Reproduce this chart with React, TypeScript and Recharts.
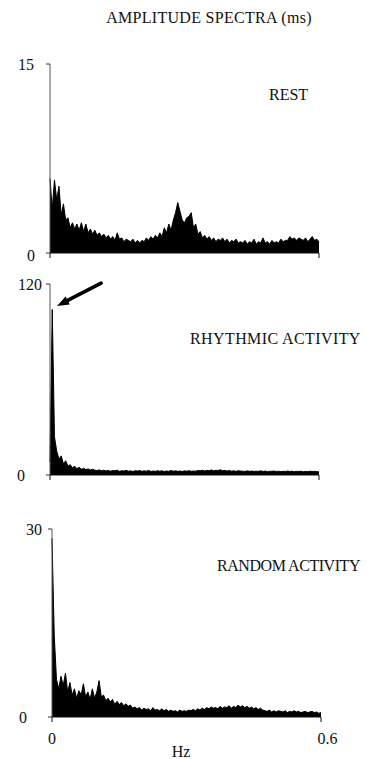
import React from 'react';
import { AreaChart, Area, XAxis, YAxis, ReferenceLine } from 'recharts';

// ---- data ----
const FREQ_STEP = 0.005; // Hz per spectral bin
const X_TICKS = [0, 0.6];

const REST_VALUES = [
  5.9, 3.5, 5.8, 4.2, 5.3, 3.0, 3.9, 2.6, 2.8, 2.0,
  2.4, 1.9, 2.3, 1.8, 2.4, 1.7, 2.3, 1.6, 1.9, 1.5,
  1.8, 1.4, 1.6, 1.3, 1.5, 1.2, 1.4, 1.1, 1.3, 1.0,
  1.6, 1.1, 1.2, 0.9, 1.1, 1.0, 0.9, 1.1, 0.8, 1.0,
  0.8, 1.0, 0.9, 1.2, 1.0, 1.3, 1.1, 1.4, 1.2, 1.6,
  1.3, 2.0, 1.6, 2.3, 1.8, 2.6, 3.2, 4.0, 3.3, 2.6,
  2.4, 2.8, 2.9, 3.2, 2.0, 2.3, 1.5, 1.7, 1.2, 1.4,
  1.1, 1.3, 1.0, 1.2, 0.9, 1.1, 1.0, 1.2, 0.9, 1.1,
  0.8, 1.0, 0.9, 1.1, 0.8, 0.9, 0.8, 1.0, 0.7, 0.9,
  0.8, 1.1, 0.7, 0.9, 0.8, 1.2, 0.8, 0.9, 0.7, 1.0,
  0.8, 0.9, 0.8, 1.1, 0.9, 1.0, 1.0, 1.3, 1.1, 1.2,
  1.0, 1.2, 1.1, 1.0, 1.2, 0.9, 1.1, 1.3, 1.0, 1.1,
  0.9,
];

const RHYTHMIC_VALUES = [
  8, 104, 24, 15, 10, 12, 7, 9, 5.5, 6.5,
  4.5, 5.5, 4, 4.8, 3.6, 4.2, 3.4, 3.8, 3.2, 3.6,
  3.0,
  2.8, 3.2, 2.6, 3.0, 2.5, 2.9, 2.4, 2.8, 2.6, 3.0,
  2.3, 2.7, 2.5, 2.9, 2.4, 2.6, 2.2, 2.7, 2.5, 2.8,
  2.3, 2.6, 2.4, 2.9, 2.2, 2.5, 2.3, 2.7, 2.4, 2.6,
  2.2, 2.5, 2.3, 2.8, 2.4, 2.6, 2.3, 2.5, 2.2, 2.6,
  2.4, 2.7, 2.3, 2.5, 2.4, 2.8, 2.6, 3.0, 2.5, 2.9,
  2.7, 3.2, 2.6, 3.0, 2.8, 3.3, 2.7, 2.9, 2.5, 2.8,
  2.4, 2.6, 2.3, 2.7, 2.5, 2.4, 2.2, 2.6, 2.3, 2.5,
  2.2, 2.4, 2.3, 2.6, 2.2, 2.5, 2.1, 2.4, 2.3, 2.5,
  2.2, 2.4, 2.1, 2.3, 2.2, 2.5, 2.2, 2.4, 2.1, 2.3,
  2.2, 2.4, 2.0, 2.3, 2.1, 2.4, 2.2, 2.3, 2.1, 2.0,
];

const RANDOM_VALUES = [
  28.5, 13, 6, 4.5, 6.5, 5, 7, 4, 5.5, 3.5,
  4.5, 3.0, 4.2, 3.5, 5.3, 3.2, 4.0, 2.8, 4.5, 3.0,
  4.0, 5.8, 3.2, 3.5, 2.6, 3.0, 2.4, 2.8, 2.0, 2.5,
  2.0, 2.3, 1.8, 2.1, 1.7, 1.9, 1.4, 1.6, 1.3, 1.5,
  1.1, 1.4, 1.2, 1.3, 1.0, 1.5, 1.1, 1.2, 1.0, 1.3,
  1.0, 1.2, 0.9, 1.1, 0.9, 1.0, 0.8, 1.1, 0.9, 1.0,
  0.9, 1.1, 1.0, 1.2, 1.0, 1.3, 1.1, 1.4, 1.2, 1.5,
  1.3, 1.6, 1.4, 1.5, 1.3, 1.7, 1.4, 1.6, 1.5, 1.8,
  1.4, 1.7, 1.5, 1.9, 1.6, 1.8, 1.5, 1.7, 1.4, 1.6,
  1.3, 1.5, 1.2, 1.4, 1.1, 1.0, 0.9, 1.1, 0.8, 1.0,
  0.8, 1.0, 0.9, 0.8, 1.0, 0.7, 0.9, 0.8, 1.0, 0.8,
  0.9, 0.7, 0.8, 0.9, 0.7, 0.8, 0.9, 0.7, 0.8, 0.6,
  0.7,
];

const TITLE = 'AMPLITUDE SPECTRA (ms)';
const PANEL_LABELS = ['REST', 'RHYTHMIC ACTIVITY', 'RANDOM ACTIVITY'];
const REST_Y_TICKS = [0, 15];
const RHYTHMIC_Y_TICKS = [0, 120];
const RANDOM_Y_TICKS = [0, 30];
const X_LABEL = 'Hz';
// arrow annotation (data coordinates of the rhythmic panel): tail -> tip
const ARROW = [
  { x: 0.114, y: 120.6 },
  { x: 0.0156, y: 106.2 },
];

const toRows = (vals: number[]) =>
  vals.map((v, i) => ({ f: +(i * FREQ_STEP).toFixed(3), v }));

const FONT = '"Liberation Serif", "Times New Roman", serif';
const INK = '#111';

const makeYTick = (off: Record<string, [number, number]>) => (p: any) => {
  const o = off[String(p.payload.value)] || [0, 0];
  return (
    <text
      x={p.x + o[0]}
      y={p.y + o[1]}
      dy="0.35em"
      textAnchor="end"
      fontFamily={FONT}
      fontSize={16}
      fill={INK}
    >
      {p.payload.value}
    </text>
  );
};

const makeXTick = (off: Record<string, [number, number]>) => (p: any) => {
  const o = off[String(p.payload.value)] || [0, 0];
  return (
    <text
      x={p.x + o[0]}
      y={p.y + o[1]}
      dy="0.71em"
      textAnchor="middle"
      fontFamily={FONT}
      fontSize={16}
      fill={INK}
    >
      {p.payload.value}
    </text>
  );
};

const emptyTick = () => <g />;

const ArrowShape = (p: any) => {
  const { x1, y1, x2, y2 } = p;
  const dx = x2 - x1;
  const dy = y2 - y1;
  const len = Math.sqrt(dx * dx + dy * dy) || 1;
  const ux = dx / len;
  const uy = dy / len;
  const head = 12;
  const hw = 4.5;
  const bx = x2 - ux * head;
  const by = y2 - uy * head;
  const nx = -uy;
  const ny = ux;
  return (
    <g>
      <line x1={x1} y1={y1} x2={bx} y2={by} stroke="#000" strokeWidth={3.6} strokeLinecap="round" />
      <polygon
        points={`${x2},${y2} ${bx + nx * hw},${by + ny * hw} ${bx - nx * hw},${by - ny * hw}`}
        fill="#000"
      />
    </g>
  );
};

type PanelProps = {
  top: number;
  height: number;
  margin: { top: number; right: number; bottom: number; left: number };
  yWidth: number;
  values: number[];
  yMax: number;
  yTicks: number[];
  yOffsets: Record<string, [number, number]>;
  xAxisHeight: number;
  showX?: boolean;
  children?: React.ReactNode;
};

const Panel = ({
  top,
  height,
  margin,
  yWidth,
  values,
  yMax,
  yTicks,
  yOffsets,
  xAxisHeight,
  showX,
  children,
}: PanelProps) => (
  <div style={{ position: 'absolute', left: 0, top, width: 381, height }}>
    <AreaChart width={381} height={height} data={toRows(values)} margin={margin}>
      <XAxis
        dataKey="f"
        type="number"
        domain={[0, 0.6]}
        ticks={X_TICKS}
        tickSize={5}
        height={xAxisHeight}
        stroke={INK}
        tickLine={{ stroke: INK }}
        axisLine={{ stroke: INK }}
        tick={showX ? makeXTick({ '0': [0, 9], '0.6': [6.5, 9] }) : emptyTick}
        label={
          showX
            ? {
                value: X_LABEL,
                position: 'insideBottom',
                offset: 0,
                dx: -5.5,
                fontFamily: FONT,
                fontSize: 16,
                fill: INK,
              }
            : undefined
        }
      />
      <YAxis
        type="number"
        domain={[0, yMax]}
        ticks={yTicks}
        width={yWidth}
        tickSize={4}
        stroke="#555"
        axisLine={{ stroke: '#555' }}
        tickLine={{ stroke: '#333' }}
        tick={makeYTick(yOffsets)}
      />
      <Area
        type="linear"
        dataKey="v"
        stroke="#000"
        strokeWidth={1}
        fill="#000"
        fillOpacity={1}
        dot={false}
        activeDot={false}
        isAnimationActive={false}
      />
      {children}
    </AreaChart>
  </div>
);

const textStyle: React.CSSProperties = {
  position: 'absolute',
  fontFamily: FONT,
  fontSize: 16,
  lineHeight: '16px',
  color: INK,
  whiteSpace: 'nowrap',
};

export default function App() {
  return (
    <div
      style={{
        position: 'absolute',
        left: 0,
        top: 0,
        width: 381,
        height: 759,
        background: '#fff',
        overflow: 'hidden',
      }}
    >
      <div style={{ ...textStyle, left: 59, top: 10, width: 300, textAlign: 'center', letterSpacing: 0.3 }}>
        {TITLE}
      </div>
      <div style={{ ...textStyle, left: 269, top: 87 }}>{PANEL_LABELS[0]}</div>
      <div style={{ ...textStyle, left: 190, top: 331, letterSpacing: 0.4 }}>{PANEL_LABELS[1]}</div>
      <div style={{ ...textStyle, left: 217, top: 558, letterSpacing: -0.45 }}>{PANEL_LABELS[2]}</div>

      <Panel
        top={50}
        height={220}
        margin={{ top: 14, right: 62, bottom: 7, left: 0 }}
        yWidth={50}
        values={REST_VALUES}
        yMax={15}
        yTicks={REST_Y_TICKS}
        yOffsets={{ '15': [-10, 0], '0': [-9, 2] }}
        xAxisHeight={10}
      />

      <Panel
        top={270}
        height={220}
        margin={{ top: 14, right: 62, bottom: 5, left: 0 }}
        yWidth={50}
        values={RHYTHMIC_VALUES}
        yMax={120}
        yTicks={RHYTHMIC_Y_TICKS}
        yOffsets={{ '120': [-2, 0], '0': [-19, 0] }}
        xAxisHeight={10}
      >
        <ReferenceLine segment={ARROW} ifOverflow="visible" shape={ArrowShape} />
      </Panel>

      <Panel
        top={515}
        height={250}
        margin={{ top: 14, right: 60, bottom: 8, left: 0 }}
        yWidth={52}
        values={RANDOM_VALUES}
        yMax={30}
        yTicks={RANDOM_Y_TICKS}
        yOffsets={{ '30': [-4, 0], '0': [-19, 0] }}
        xAxisHeight={40}
        showX
      />
    </div>
  );
}
